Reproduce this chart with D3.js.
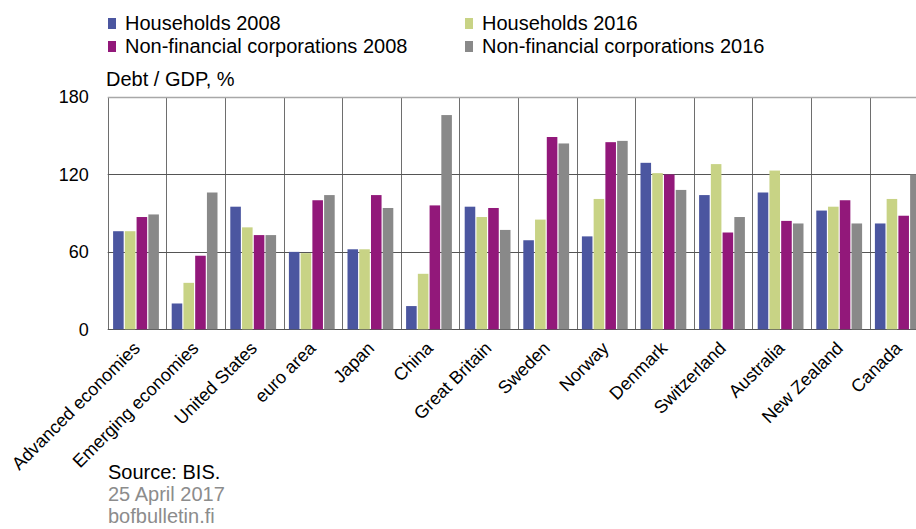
<!DOCTYPE html>
<html>
<head>
<meta charset="utf-8">
<script src="https://cdn.jsdelivr.net/npm/d3@7"></script>
<style>
  body { margin: 0; background: #fff; }
  svg { display: block; font-family: "Liberation Sans", Arial, sans-serif; }
</style>
</head>
<body>
<div id="chart"></div>
<script>
var categories = ["Advanced economies", "Emerging economies", "United States", "euro area", "Japan", "China",
    "Great Britain", "Sweden", "Norway", "Denmark", "Switzerland", "Australia", "New Zealand", "Canada"];
var seriesNames = ["Households 2008", "Households 2016", "Non-financial corporations 2008", "Non-financial corporations 2016"];
var seriesColors = ["#4b56a0", "#c8d385", "#92187a", "#898989"];

var households2008 = [76, 20, 95, 60, 62, 18, 95, 69, 72, 129, 104, 106, 92, 82];
var households2016 = [76, 36, 79, 59, 62, 43, 87, 85, 101, 121, 128, 123, 95, 101];
var corporations2008 = [87, 57, 73, 100, 104, 96, 94, 149, 145, 120, 75, 84, 100, 88];
var corporations2016 = [89, 106, 73, 104, 94, 166, 77, 144, 146, 108, 87, 82, 82, 120];
var yTicks = [0, 60, 120, 180];

var allSeries = [households2008, households2016, corporations2008, corporations2016];

var data = categories.map(function(c, i) {
    return {
        country: c,
        values: allSeries.map(function(s, j) { return { key: seriesNames[j], value: s[i] }; })
    };
});

var width = 916, height = 529;
var plotLeft = 107.7, plotTop = 97, plotBottom = 329.3;
var step = 58.6;

var svg = d3.select("#chart").append("svg")
    .attr("width", width)
    .attr("height", height);

var x0 = d3.scaleBand()
    .domain(categories)
    .range([plotLeft, plotLeft + step * categories.length])
    .paddingInner(0)
    .paddingOuter(0);

var x1 = d3.scaleBand()
    .domain(seriesNames)
    .range([5.4, 51.2])
    .paddingInner(0.1);

var y = d3.scaleLinear()
    .domain([0, 180])
    .range([plotBottom, plotTop]);

var color = d3.scaleOrdinal().domain(seriesNames).range(seriesColors);

// vertical dividers between categories
svg.append("g")
    .selectAll("line")
    .data(categories)
    .enter().append("line")
    .attr("x1", function(d) { return Math.round(x0(d)) + 0.5; })
    .attr("x2", function(d) { return Math.round(x0(d)) + 0.5; })
    .attr("y1", plotTop)
    .attr("y2", plotBottom)
    .attr("stroke", "#6e6e6e")
    .attr("stroke-width", 1);

// horizontal grid
svg.append("g")
    .selectAll("line")
    .data(yTicks)
    .enter().append("line")
    .attr("x1", plotLeft)
    .attr("x2", width)
    .attr("y1", function(d) { return Math.round(y(d)) + 0.5; })
    .attr("y2", function(d) { return Math.round(y(d)) + 0.5; })
    .attr("stroke", function(d) { return d === 180 ? "#a8a8a8" : "#555"; })
    .attr("stroke-width", function(d) { return d === 180 ? 1.5 : 1; });

// bars
var groups = svg.append("g")
    .selectAll("g")
    .data(data)
    .enter().append("g")
    .attr("transform", function(d) { return "translate(" + x0(d.country) + ",0)"; });

groups.selectAll("rect")
    .data(function(d) { return d.values; })
    .enter().append("rect")
    .attr("x", function(d) { return x1(d.key); })
    .attr("width", x1.bandwidth())
    .attr("y", function(d) { return y(d.value); })
    .attr("height", function(d) { return plotBottom - y(d.value); })
    .attr("fill", function(d) { return color(d.key); });

// y axis labels
var yAxis = svg.append("g")
    .attr("transform", "translate(" + (plotLeft - 19) + ",0)")
    .call(d3.axisLeft(y).tickValues(yTicks).tickSize(0).tickPadding(0));
yAxis.select(".domain").remove();
yAxis.selectAll("text")
    .style("font-size", "18px")
    .style("font-family", "'Liberation Sans', Arial, sans-serif")
    .attr("fill", "#000");

// x axis labels
svg.append("g")
    .selectAll("text")
    .data(categories)
    .enter().append("text")
    .attr("transform", function(d) {
        return "translate(" + (x0(d) + x0.bandwidth() / 2 + 4) + "," + (plotBottom + 20) + ") rotate(-45)";
    })
    .attr("text-anchor", "end")
    .style("font-size", "18px")
    .attr("fill", "#000")
    .text(function(d) { return d; });

// y axis title
svg.append("text")
    .attr("x", 106)
    .attr("y", 86)
    .style("font-size", "20px")
    .attr("fill", "#000")
    .text("Debt / GDP, %");

// legend
var legendPos = [[108, 30], [465, 30], [108, 53], [465, 53]];
var legend = svg.append("g")
    .selectAll("g")
    .data(seriesNames)
    .enter().append("g")
    .attr("transform", function(d, i) { return "translate(" + legendPos[i][0] + "," + legendPos[i][1] + ")"; });
legend.append("rect")
    .attr("x", 0)
    .attr("y", -12)
    .attr("width", 8)
    .attr("height", 11)
    .attr("fill", function(d) { return color(d); });
legend.append("text")
    .attr("x", 17)
    .attr("y", 0)
    .style("font-size", "20px")
    .attr("fill", "#000")
    .text(function(d) { return d; });

// footer
svg.append("text")
    .attr("x", 108)
    .attr("y", 479)
    .style("font-size", "20px")
    .attr("fill", "#000")
    .text("Source: BIS.");
svg.append("text")
    .attr("x", 108)
    .attr("y", 501)
    .style("font-size", "20px")
    .attr("fill", "#8c8c8c")
    .text("25 April 2017");
svg.append("text")
    .attr("x", 108)
    .attr("y", 523)
    .style("font-size", "20px")
    .attr("fill", "#8c8c8c")
    .text("bofbulletin.fi");
</script>
</body>
</html>
